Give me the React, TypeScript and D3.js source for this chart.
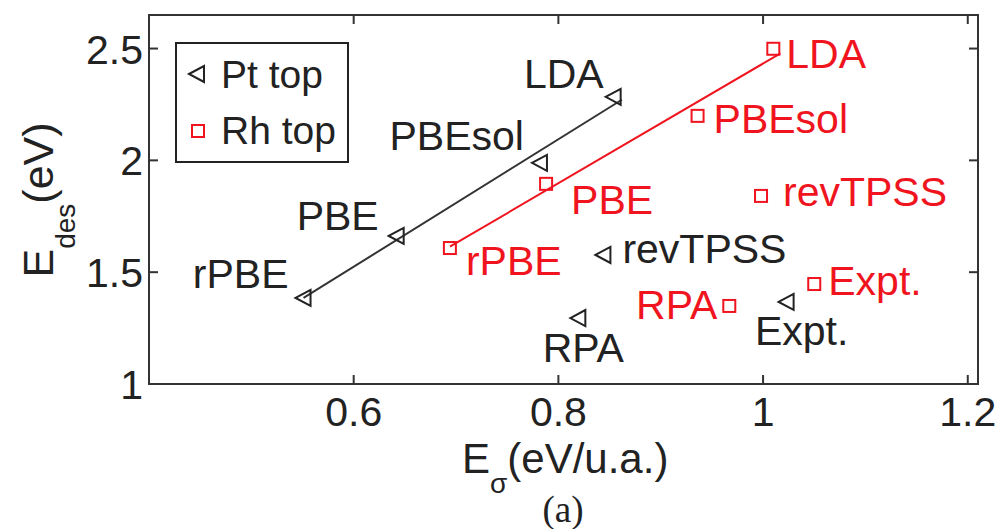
import React from "react";
import * as d3 from "d3";

// Functionals and experiment, in the order they are plotted
const methods = ["LDA", "PBEsol", "PBE", "rPBE", "revTPSS", "RPA", "Expt."];

// Pt top site: E_sigma (eV/u.a.) and desorption energy (eV)
const ptSigma = [0.854, 0.782, 0.642, 0.551, 0.844, 0.8195, 1.023];
const ptDes = [2.284, 1.989, 1.662, 1.385, 1.577, 1.295, 1.367];

// Rh top site
const rhSigma = [1.01, 0.936, 0.788, 0.694, 0.998, 0.967, 1.05];
const rhDes = [2.499, 2.199, 1.895, 1.608, 1.841, 1.349, 1.447];

// Linear fits through LDA, PBEsol, PBE, rPBE, drawn over these E_sigma extents
const fitMethods = ["LDA", "PBEsol", "PBE", "rPBE"];
const ptFitExtent = [0.551, 0.862];
const rhFitExtent = [0.694, 1.017];

const xTicks = [0.6, 0.8, 1, 1.2];
const yTicks = [1, 1.5, 2, 2.5];

// Label placement relative to each marker (pixels)
type LabelPos = { dx: number; dy: number; anchor: "start" | "middle" | "end" };
const ptLabelPos: LabelPos[] = [
  { dx: -10, dy: -9, anchor: "end" },
  { dx: -16, dy: -13, anchor: "end" },
  { dx: -18, dy: -6, anchor: "end" },
  { dx: -15, dy: -10, anchor: "end" },
  { dx: 19, dy: 8, anchor: "start" },
  { dx: 5, dy: 44, anchor: "middle" },
  { dx: 15, dy: 43, anchor: "middle" },
];
const rhLabelPos: LabelPos[] = [
  { dx: 13, dy: 19, anchor: "start" },
  { dx: 16, dy: 17, anchor: "start" },
  { dx: 25, dy: 30, anchor: "start" },
  { dx: 16, dy: 27, anchor: "start" },
  { dx: 22, dy: 10, anchor: "start" },
  { dx: -12, dy: 13, anchor: "end" },
  { dx: 14, dy: 11, anchor: "start" },
];

const W = 1001;
const H = 529;
const plot = { left: 149, right: 978, top: 15, bottom: 384 };
const FONT = "'Liberation Sans', Arial, Helvetica, sans-serif";
const BLACK = "#222";
const RED = "#f0141e";

function fitLine(xs: number[], ys: number[], extent: number[]) {
  const idx = fitMethods.map((m) => methods.indexOf(m));
  const px = idx.map((i) => xs[i]);
  const py = idx.map((i) => ys[i]);
  const mx = d3.mean(px) as number;
  const my = d3.mean(py) as number;
  const sxy = d3.sum(px.map((x, k) => (x - mx) * (py[k] - my)));
  const sxx = d3.sum(px.map((x) => (x - mx) * (x - mx)));
  const slope = sxy / sxx;
  return extent.map((x) => [x, my + slope * (x - mx)] as [number, number]);
}

const triPath = "M-8,0L7,-8L7,8Z";

export default function App() {
  const x = d3.scaleLinear().domain([0.4, 1.21]).range([plot.left, plot.right]);
  const y = d3.scaleLinear().domain([1, 2.65]).range([plot.bottom, plot.top]);
  const line = d3
    .line<[number, number]>()
    .x((d) => x(d[0]))
    .y((d) => y(d[1]));

  const ptFit = fitLine(ptSigma, ptDes, ptFitExtent);
  const rhFit = fitLine(rhSigma, rhDes, rhFitExtent);
  const tick = 9;

  return (
    <svg
      width={W}
      height={H}
      style={{ position: "absolute", left: 0, top: 0, background: "#fff" }}
      fontFamily={FONT}
    >
      <rect x={0} y={0} width={W} height={H} fill="#fff" />

      {/* fit lines */}
      <path d={line(ptFit) || ""} stroke="#333" strokeWidth={2} fill="none" />
      <path d={line(rhFit) || ""} stroke={RED} strokeWidth={2} fill="none" />

      {/* Pt top markers and labels */}
      {methods.map((m, i) => (
        <g key={"pt" + m}>
          <path
            d={triPath}
            transform={`translate(${x(ptSigma[i])},${y(ptDes[i])})`}
            fill="none"
            stroke={BLACK}
            strokeWidth={2}
            strokeLinejoin="miter"
          />
          <text
            x={x(ptSigma[i]) + ptLabelPos[i].dx}
            y={y(ptDes[i]) + ptLabelPos[i].dy}
            textAnchor={ptLabelPos[i].anchor}
            fontSize={41}
            fill={BLACK}
          >
            {m}
          </text>
        </g>
      ))}

      {/* Rh top markers and labels */}
      {methods.map((m, i) => (
        <g key={"rh" + m}>
          <rect
            x={x(rhSigma[i]) - 6}
            y={y(rhDes[i]) - 6}
            width={12}
            height={12}
            fill="none"
            stroke={RED}
            strokeWidth={2}
          />
          <text
            x={x(rhSigma[i]) + rhLabelPos[i].dx}
            y={y(rhDes[i]) + rhLabelPos[i].dy}
            textAnchor={rhLabelPos[i].anchor}
            fontSize={41}
            fill={RED}
          >
            {m}
          </text>
        </g>
      ))}

      {/* axes box */}
      <rect
        x={plot.left}
        y={plot.top}
        width={plot.right - plot.left}
        height={plot.bottom - plot.top}
        fill="none"
        stroke="#333"
        strokeWidth={2}
      />
      {xTicks.map((t) => (
        <g key={"xt" + t}>
          <line x1={x(t)} x2={x(t)} y1={plot.bottom} y2={plot.bottom - tick} stroke="#333" strokeWidth={2} />
          <line x1={x(t)} x2={x(t)} y1={plot.top} y2={plot.top + tick} stroke="#333" strokeWidth={2} />
          <text x={x(t)} y={426} textAnchor="middle" fontSize={41} fill={BLACK}>
            {d3.format("~g")(t)}
          </text>
        </g>
      ))}
      {yTicks.map((t) => (
        <g key={"yt" + t}>
          <line x1={plot.left} x2={plot.left + tick} y1={y(t)} y2={y(t)} stroke="#333" strokeWidth={2} />
          <line x1={plot.right} x2={plot.right - tick} y1={y(t)} y2={y(t)} stroke="#333" strokeWidth={2} />
          <text x={143} y={y(t) + 15} textAnchor="end" fontSize={41} fill={BLACK}>
            {d3.format("~g")(t)}
          </text>
        </g>
      ))}

      {/* legend */}
      <rect x={176} y={43} width={172} height={119} fill="#fff" stroke={BLACK} strokeWidth={2} />
      <path d={triPath} transform="translate(197,74)" fill="none" stroke={BLACK} strokeWidth={2} />
      <text x={221} y={88} fontSize={39} fill={BLACK}>
        Pt top
      </text>
      <rect x={192} y={125} width={12} height={12} fill="none" stroke={RED} strokeWidth={2} />
      <text x={221} y={144} fontSize={39} fill={BLACK}>
        Rh top
      </text>

      {/* axis titles */}
      <text x={462} y={473} fontSize={42} fill={BLACK}>
        E
        <tspan fontSize={28} dy={20}>σ</tspan>
        <tspan dy={-20}>(eV/u.a.)</tspan>
      </text>
      <text transform="translate(53,200) rotate(-90)" textAnchor="middle" fontSize={43} fill={BLACK}>
        E
        <tspan fontSize={28} dy={22}>des</tspan>
        <tspan dy={-22}>(eV)</tspan>
      </text>
      <text
        x={563}
        y={522}
        textAnchor="middle"
        fontSize={37}
        fontFamily="'Liberation Serif', 'DejaVu Serif', serif"
        fill={BLACK}
      >
        (a)
      </text>
    </svg>
  );
}
